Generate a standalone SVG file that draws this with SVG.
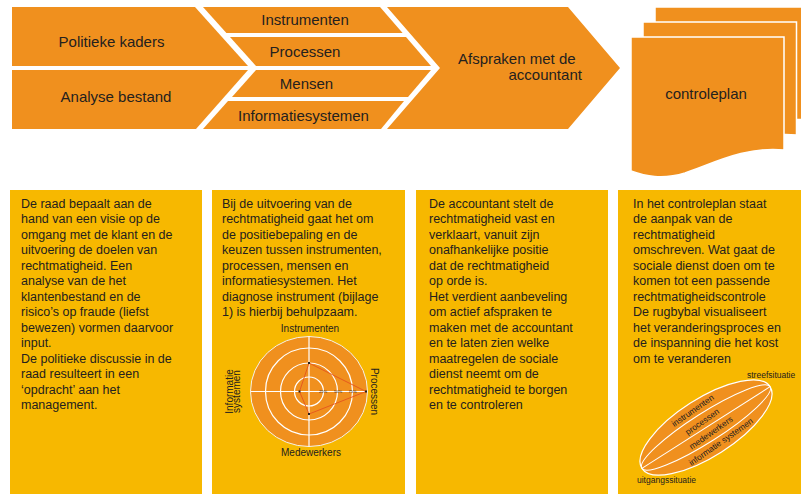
<svg xmlns="http://www.w3.org/2000/svg" width="801" height="494" viewBox="0 0 801 494">
  <style>
    .org { fill: #F0901E; }
    .yel { fill: #F7B800; }
    .lbl { font-family: "Liberation Sans", Arial, sans-serif; font-size: 15px; fill: #24211e; }
    .body { font-family: "Liberation Sans", Arial, sans-serif; font-size: 12.5px; fill: #24211e; }
    .small { font-family: "Liberation Sans", Arial, sans-serif; font-size: 10px; fill: #24211e; }
    .tiny { font-family: "Liberation Sans", Arial, sans-serif; font-size: 8.5px; fill: #24211e; }
    .mid { text-anchor: middle; }
    .ring { fill: none; stroke: #ffffff; stroke-width: 1.2; }
    .page { fill: #F0901E; stroke: #ffffff; stroke-width: 1.5; }
  </style>

  <rect width="801" height="494" fill="#ffffff"/>

  <!-- top band: inputs -->
  <g id="politieke-kaders">
    <polygon class="org" points="12,7 195,7 248,66 12,66"/>
    <text class="lbl mid" x="111.5" y="46.5">Politieke kaders</text>
  </g>
  <g id="analyse-bestand">
    <polygon class="org" points="12,70 248,70 196,129 12,129"/>
    <text class="lbl mid" x="116" y="102">Analyse bestand</text>
  </g>

  <!-- middle column of bars -->
  <g id="instrumenten">
    <polygon class="org" points="203,7 380,7 402.6,33 226.4,33"/>
    <text class="lbl mid" x="305" y="25">Instrumenten</text>
  </g>
  <g id="processen">
    <polygon class="org" points="230,37 406,37 431,66 256,66"/>
    <text class="lbl mid" x="305" y="56.5">Processen</text>
  </g>
  <g id="mensen">
    <polygon class="org" points="256,70 431,70 408,97 232,97"/>
    <text class="lbl mid" x="306.5" y="88.5">Mensen</text>
  </g>
  <g id="informatiesystemen">
    <polygon class="org" points="228,101 404,101 381,129 203,129"/>
    <text class="lbl mid" x="303.5" y="120.5">Informatiesystemen</text>
  </g>

  <g id="afspraken">
    <polygon class="org" points="387,7 568,7 620,68 568,129 387,129 440,68"/>
    <text class="lbl" x="458" y="64">Afspraken met de</text>
    <text class="lbl" x="508.5" y="80">accountant</text>
  </g>

  <!-- stacked document -->
  <g id="controleplan">
    <path class="page" d="M655,7 H809 V120 C770,116 737,134 710,143 C687,150 670,146 655,141 Z"/>
    <path class="page" d="M643,22 H796.5 V135 C757,131 724,149 697,158 C674,165 657,161 643,156 Z"/>
    <path class="page" d="M631,37 H784 V150 C745,146 712,164 685,173 C662,180 645,176 631,171 Z"/>
    <text class="lbl mid" x="706" y="99">controleplan</text>
  </g>

  <!-- description panels -->
  <g id="panel-kaders">
    <rect class="yel" x="10" y="190" width="192" height="304"/>
    <text class="body" x="21" y="207.5">
      <tspan x="21">De raad bepaalt aan de</tspan>
      <tspan x="21" dy="15.5">hand van een visie op de</tspan>
      <tspan x="21" dy="15.5">omgang met de klant en de</tspan>
      <tspan x="21" dy="15.5">uitvoering de doelen van</tspan>
      <tspan x="21" dy="15.5">rechtmatigheid. Een</tspan>
      <tspan x="21" dy="15.5">analyse van de het</tspan>
      <tspan x="21" dy="15.5">klantenbestand en de</tspan>
      <tspan x="21" dy="15.5">risico’s op fraude (liefst</tspan>
      <tspan x="21" dy="15.5">bewezen) vormen daarvoor</tspan>
      <tspan x="21" dy="15.5">input.</tspan>
      <tspan x="21" dy="15.5">De politieke discussie in de</tspan>
      <tspan x="21" dy="15.5">raad resulteert in een</tspan>
      <tspan x="21" dy="15.5">‘opdracht’ aan het</tspan>
      <tspan x="21" dy="15.5">management.</tspan>
    </text>
  </g>

  <g id="panel-uitvoering">
    <rect class="yel" x="212" y="190" width="193" height="304"/>
    <text class="body" x="222" y="207.5">
      <tspan x="222">Bij de uitvoering van de</tspan>
      <tspan x="222" dy="15.5">rechtmatigheid gaat het om</tspan>
      <tspan x="222" dy="15.5">de positiebepaling en de</tspan>
      <tspan x="222" dy="15.5">keuzen tussen instrumenten,</tspan>
      <tspan x="222" dy="15.5">processen, mensen en</tspan>
      <tspan x="222" dy="15.5">informatiesystemen. Het</tspan>
      <tspan x="222" dy="15.5">diagnose instrument (bijlage</tspan>
      <tspan x="222" dy="15.5">1) is hierbij behulpzaam.</tspan>
    </text>
    <!-- diagnosis radar -->
    <g id="radar">
      <ellipse cx="309" cy="391.5" rx="58.5" ry="55" fill="#F0901E" stroke="#f4f1ea" stroke-width="1"/>
      <circle class="ring" cx="309" cy="391.5" r="43.5"/>
      <circle class="ring" cx="309" cy="391.5" r="28.5"/>
      <circle class="ring" cx="309" cy="391.5" r="14.5"/>
      <line x1="250.5" y1="391.5" x2="367.5" y2="391.5" stroke="#ffffff" stroke-width="1.2"/>
      <line x1="309" y1="336.5" x2="309" y2="446.5" stroke="#ffffff" stroke-width="1.2"/>
      <polygon points="309,363 366,391.5 309,414 299.5,391.5" fill="none" stroke="#E4531E" stroke-width="0.9"/>
      <g fill="#24211e">
        <rect x="308" y="362" width="2" height="2"/>
        <rect x="365" y="390.5" width="2" height="2"/>
        <rect x="308" y="413" width="2" height="2"/>
        <rect x="298.5" y="390.5" width="2" height="2"/>
      </g>
      <g font-family="Liberation Sans, Arial, sans-serif" font-size="4" fill="#24211e" text-anchor="middle">
        <text x="323" y="393">25%</text>
        <text x="338" y="393">50%</text>
        <text x="352.5" y="393">75%</text>
      </g>
      <text class="small mid" x="310" y="332">Instrumenten</text>
      <text class="small mid" x="311" y="456">Medewerkers</text>
      <text class="small mid" transform="translate(371,391.5) rotate(90)">Processen</text>
      <text class="small mid" transform="translate(232.5,391.5) rotate(-90)">Informatie</text>
      <text class="small mid" transform="translate(240,391.5) rotate(-90)">systemen</text>
    </g>
  </g>

  <g id="panel-accountant">
    <rect class="yel" x="416" y="190" width="192" height="304"/>
    <text class="body" x="429" y="207.5">
      <tspan x="429">De accountant stelt de</tspan>
      <tspan x="429" dy="15.5">rechtmatigheid vast en</tspan>
      <tspan x="429" dy="15.5">verklaart, vanuit zijn</tspan>
      <tspan x="429" dy="15.5">onafhankelijke positie</tspan>
      <tspan x="429" dy="15.5">dat de rechtmatigheid</tspan>
      <tspan x="429" dy="15.5">op orde is.</tspan>
      <tspan x="429" dy="15.5">Het verdient aanbeveling</tspan>
      <tspan x="429" dy="15.5">om actief afspraken te</tspan>
      <tspan x="429" dy="15.5">maken met de accountant</tspan>
      <tspan x="429" dy="15.5">en te laten zien welke</tspan>
      <tspan x="429" dy="15.5">maatregelen de sociale</tspan>
      <tspan x="429" dy="15.5">dienst neemt om de</tspan>
      <tspan x="429" dy="15.5">rechtmatigheid te borgen</tspan>
      <tspan x="429" dy="15.5">en te controleren</tspan>
    </text>
  </g>

  <g id="panel-controleplan">
    <rect class="yel" x="618" y="190" width="183" height="304"/>
    <text class="body" x="633" y="207.5">
      <tspan x="633">In het controleplan staat</tspan>
      <tspan x="633" dy="15.5">de aanpak van de</tspan>
      <tspan x="633" dy="15.5">rechtmatigheid</tspan>
      <tspan x="633" dy="15.5">omschreven. Wat gaat de</tspan>
      <tspan x="633" dy="15.5">sociale dienst doen om te</tspan>
      <tspan x="633" dy="15.5">komen tot een passende</tspan>
      <tspan x="633" dy="15.5">rechtmatigheidscontrole</tspan>
      <tspan x="633" dy="15.5">De rugbybal visualiseert</tspan>
      <tspan x="633" dy="15.5">het veranderingsproces en</tspan>
      <tspan x="633" dy="15.5">de inspanning die het kost</tspan>
      <tspan x="633" dy="15.5">om te veranderen</tspan>
    </text>
    <!-- rugby ball of change -->
    <g id="rugbybal" transform="translate(706,427.5) rotate(-32.5)">
      <ellipse cx="0" cy="0" rx="76" ry="29" fill="#F0901E" stroke="#ffffff" stroke-width="1.2"/>
      <path d="M-76,0 A76,14.5 0 0 1 76,0" fill="none" stroke="#ffffff" stroke-width="1"/>
      <path d="M-76,0 L76,0" fill="none" stroke="#ffffff" stroke-width="1"/>
      <path d="M-76,0 A76,14.5 0 0 0 76,0" fill="none" stroke="#ffffff" stroke-width="1"/>
      <g class="tiny" text-anchor="middle">
        <text transform="translate(-2,-18.5) rotate(-2.5)">instrumenten</text>
        <text transform="translate(0,-4) rotate(-2.5)">processen</text>
        <text transform="translate(1.5,10) rotate(-2.5)">medewerkers</text>
        <text transform="translate(5,23) rotate(-2.5)">informatie systemen</text>
      </g>
    </g>
    <text class="tiny" x="747" y="378">streefsituatie</text>
    <text class="tiny" x="637" y="483">uitgangssituatie</text>
  </g>
</svg>
